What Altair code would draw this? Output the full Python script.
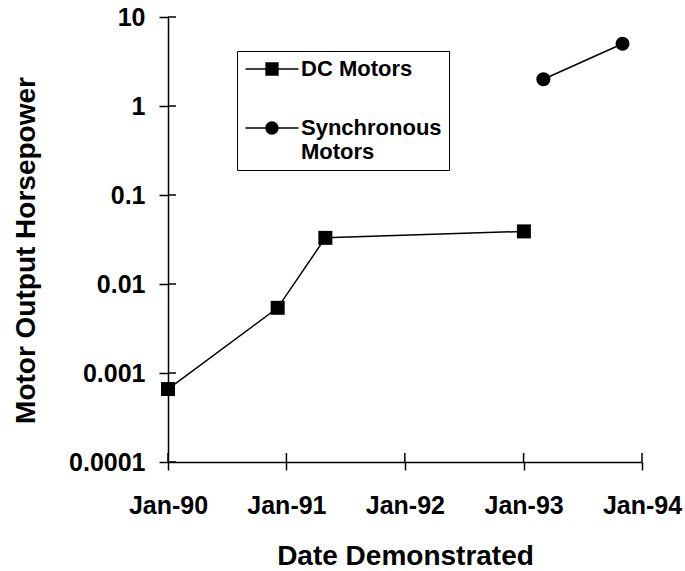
import altair as alt
import pandas as pd

# ---- data ----
dc_name = "DC Motors"
sync_name = "Synchronous Motors"
dc_dates = ["1990-01-01", "1990-12-05", "1991-05-01", "1993-01-02"]
dc_hp = [0.00066, 0.0054, 0.033, 0.039]
sync_dates = ["1993-03-03", "1993-11-02"]
sync_hp = [2.0, 5.0]
y_ticks = [0.0001, 0.001, 0.01, 0.1, 1, 10]
x_tick_dates = ["1990-01-01", "1991-01-01", "1992-01-01", "1993-01-01", "1994-01-01"]

FONT = "Liberation Sans"

df = pd.concat([
    pd.DataFrame({"date": dc_dates, "hp": dc_hp, "series": dc_name}),
    pd.DataFrame({"date": sync_dates, "hp": sync_hp, "series": sync_name}),
], ignore_index=True)

x_vals = [alt.DateTime(year=int(d[:4]), month=1, date=1, utc=True) for d in x_tick_dates]
x_scale = alt.Scale(type="utc", domain=[x_vals[0], x_vals[-1]])
y_scale = alt.Scale(type="log", domain=[y_ticks[0], y_ticks[-1]])

x_enc = alt.X(
    "date:T", scale=x_scale,
    axis=alt.Axis(values=x_vals, format="%b-%y", title="Date Demonstrated",
                  tickSize=8, labelPadding=23, labelOverlap=False, labelFlush=False,
                  titleY=94, titleBaseline="middle"),
)
y_enc = alt.Y(
    "hp:Q", scale=y_scale,
    axis=alt.Axis(values=y_ticks, format="~g", title="Motor Output Horsepower",
                  tickSize=9, labelPadding=14, labelOverlap=False, labelFlush=False,
                  titleX=-142, titleY=233, titleBaseline="middle"),
)

base = alt.Chart(df)
series_domain = [dc_name, sync_name]

lines = base.mark_line(color="black", strokeWidth=1.5).encode(
    x=x_enc, y=y_enc, detail="series:N"
)
points = base.mark_point(filled=True, color="black", size=196, opacity=1).encode(
    x=x_enc, y=y_enc,
    shape=alt.Shape("series:N", scale=alt.Scale(domain=series_domain, range=["square", "circle"]),
                    legend=None),
)

# legend symbols: a thin bar (the line) through a square / circle; unit = 7 px
bar = "M0,-3.43M-3.786,-1.107H3.786V-0.893H-3.786Z"
path_dc = bar + "M-0.95,-1.95H0.95V-0.05H-0.95Z"
path_sync = bar + "M0.95,-1A0.95,0.95,0,1,1,-0.95,-1A0.95,0.95,0,1,1,0.95,-1Z"

legend_layer = base.mark_point(filled=True, fill="black", stroke="black", strokeWidth=1.5,
                               opacity=0).encode(
    x=x_enc, y=y_enc,
    shape=alt.Shape(
        "series:N",
        scale=alt.Scale(domain=series_domain, range=[path_dc, path_sync]),
        legend=alt.Legend(
            title=" ", titleFontSize=1, titlePadding=6,
            orient="none", legendX=69, legendY=34,
            strokeColor="black", fillColor="white", padding=7,
            labelFont=FONT, labelFontSize=22, labelFontWeight="bold", labelColor="black",
            labelBaseline="alphabetic",
            labelExpr="datum.label == 'Synchronous Motors' ? ['Synchronous', 'Motors'] : [datum.label]",
            symbolSize=196, symbolOffset=17, labelOffset=18,
            symbolFillColor="black", symbolStrokeColor="black", symbolStrokeWidth=1.5,
            symbolOpacity=1, rowPadding=27,
        ),
    ),
)

# inner halves of the crossing tick marks
y_inner = alt.Chart(pd.DataFrame({"v": y_ticks})).mark_rule(color="black", strokeWidth=1.5).encode(
    y=alt.Y("v:Q", scale=y_scale), x=alt.value(0), x2=alt.value(8)
)
x_inner = alt.Chart(pd.DataFrame({"d": x_tick_dates})).mark_rule(color="black", strokeWidth=1.5).encode(
    x=alt.X("d:T", scale=x_scale), y=alt.value(445), y2=alt.value(436)
)

chart = (
    alt.layer(lines, points, legend_layer, y_inner, x_inner)
    .resolve_scale(shape="independent")
    .properties(
        width=474, height=445,
        autosize=alt.AutoSizeParams(type="none"),
        padding={"left": 168, "top": 17, "right": 43, "bottom": 109},
        background="white",
    )
    .configure_view(stroke=None)
    .configure_axis(
        grid=False,
        labelFont=FONT, titleFont=FONT,
        labelFontWeight="bold", titleFontWeight="bold",
        labelFontSize=25, titleFontSize=28,
        labelColor="black", titleColor="black",
        domainColor="black", tickColor="black",
        domainWidth=1.5, tickWidth=1.5,
    )
)

chart.save("out.html", embed_options={"renderer": "svg", "actions": False})
